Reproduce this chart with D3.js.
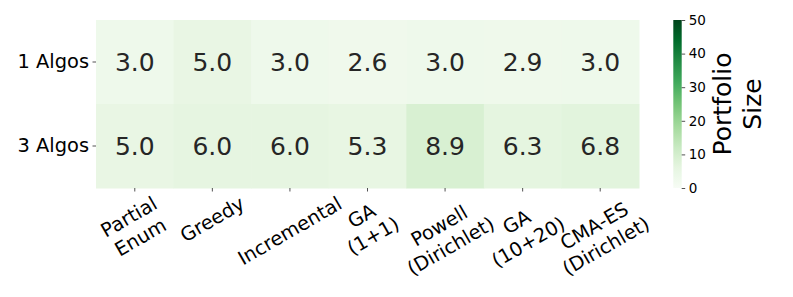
<!DOCTYPE html>
<meta charset="utf-8">
<script src="https://d3js.org/d3.v7.min.js"></script>
<style>
  body { margin: 0; background: #fff; }
  text { font-family: "DejaVu Sans", sans-serif; }
</style>
<div id="my_dataviz"></div>
<script>

// data
var algos = ["Partial\nEnum", "Greedy", "Incremental", "GA\n(1+1)", "Powell\n(Dirichlet)", "GA\n(10+20)", "CMA-ES\n(Dirichlet)"];
var rows = ["1 Algos", "3 Algos"];
var sizes1 = [3.0, 5.0, 3.0, 2.6, 3.0, 2.9, 3.0];
var sizes3 = [5.0, 6.0, 6.0, 5.3, 8.9, 6.3, 6.8];
var cbarTicks = [0, 10, 20, 30, 40, 50];
var cbarLabel = ["Portfolio", "Size"];

var cells = [];
[sizes1, sizes3].forEach(function (vals, r) {
  vals.forEach(function (v, c) { cells.push({row: rows[r], col: algos[c], value: v}); });
});

var W = 793, H = 297;
var svg = d3.select("#my_dataviz").append("svg")
  .attr("width", W).attr("height", H);

// matplotlib "Greens"
var greens = ["#f7fcf5", "#e5f5e0", "#c7e9c0", "#a1d99b", "#74c476", "#41ab5d", "#238b45", "#006d2c", "#00441b"];
var color = d3.scaleLinear()
  .domain(greens.map(function (d, i) { return 50 * i / (greens.length - 1); }))
  .range(greens)
  .interpolate(d3.interpolateRgb);

var x = d3.scaleBand().domain(algos).range([96, 639]);
var y = d3.scaleBand().domain(rows).range([20, 188]);

// cells
svg.append("g").selectAll("rect")
  .data(cells)
  .enter()
  .append("rect")
    .attr("x", function (d) { return x(d.col); })
    .attr("y", function (d) { return y(d.row); })
    .attr("width", x.bandwidth() + 0.5)
    .attr("height", y.bandwidth() + 0.5)
    .style("fill", function (d) { return color(d.value); });

// annotations
svg.append("g").selectAll("text")
  .data(cells)
  .enter()
  .append("text")
    .attr("x", function (d) { return x(d.col) + x.bandwidth() / 2; })
    .attr("y", function (d) { return y(d.row) + y.bandwidth() / 2; })
    .attr("text-anchor", "middle")
    .attr("dominant-baseline", "central")
    .style("font-size", "25px")
    .style("fill", "#262626")
    .text(function (d) { return d3.format(".1f")(d.value); });

// y axis
var yAxis = svg.append("g")
  .attr("transform", "translate(96,0)")
  .call(d3.axisLeft(y).tickSize(3.5).tickPadding(3.5));
yAxis.select(".domain").remove();
yAxis.selectAll("line").style("stroke", "#262626").style("stroke-width", 0.8);
yAxis.selectAll("text").style("font-size", "19.4px").style("fill", "#000")
  .attr("font-family", "DejaVu Sans");

// x axis (ticks only, labels drawn below)
var xAxis = svg.append("g")
  .attr("transform", "translate(0,188)")
  .call(d3.axisBottom(x).tickSize(3.5).tickFormat(""));
xAxis.select(".domain").remove();
xAxis.selectAll("line").style("stroke", "#262626").style("stroke-width", 0.8);

// rotated multi-line x labels, bbox centered on tick
algos.forEach(function (a) {
  var outer = svg.append("g")
    .attr("transform", "translate(" + (x(a) + x.bandwidth() / 2) + ",192)");
  var inner = outer.append("g");
  var t = inner.append("text")
    .attr("transform", "rotate(-30)")
    .attr("text-anchor", "middle")
    .style("font-size", "19.4px")
    .style("fill", "#000");
  a.split("\n").forEach(function (l, i) {
    t.append("tspan").attr("x", 0).attr("y", (i * 1.2) + "em").text(l);
  });
  var bb = inner.node().getBBox();
  inner.attr("transform", "translate(" + (-(bb.x + bb.width / 2)) + "," + (-bb.y) + ")");
});

// colorbar
var cy = d3.scaleLinear().domain([0, 50]).range([188, 20]);
var defs = svg.append("defs");
var grad = defs.append("linearGradient")
  .attr("id", "cbar").attr("x1", 0).attr("y1", 1).attr("x2", 0).attr("y2", 0);
grad.selectAll("stop")
  .data(d3.range(0, 51, 2))
  .enter()
  .append("stop")
    .attr("offset", function (d) { return d / 50; })
    .attr("stop-color", function (d) { return color(d); });

svg.append("rect")
  .attr("x", 673.3).attr("y", cy(50))
  .attr("width", 8.4).attr("height", cy(0) - cy(50))
  .style("fill", "url(#cbar)");

var cAxis = svg.append("g")
  .attr("transform", "translate(681.7,0)")
  .call(d3.axisRight(cy).tickValues(cbarTicks).tickSize(3.5).tickPadding(3.5));
cAxis.select(".domain").remove();
cAxis.selectAll("line").style("stroke", "#262626").style("stroke-width", 0.8);
cAxis.selectAll("text").style("font-size", "13.5px").style("fill", "#000")
  .attr("font-family", "DejaVu Sans");

svg.append("text")
  .attr("transform", "translate(737,104) rotate(-90)")
  .attr("text-anchor", "middle")
  .style("font-size", "25px")
  .style("fill", "#000")
  .selectAll("tspan")
  .data(cbarLabel)
  .enter()
  .append("tspan")
    .attr("x", 0)
    .attr("y", function (d, i) { return (i - 0.5) * 1.2 + "em"; })
    .attr("dy", "0.35em")
    .text(function (d) { return d; });

</script>
